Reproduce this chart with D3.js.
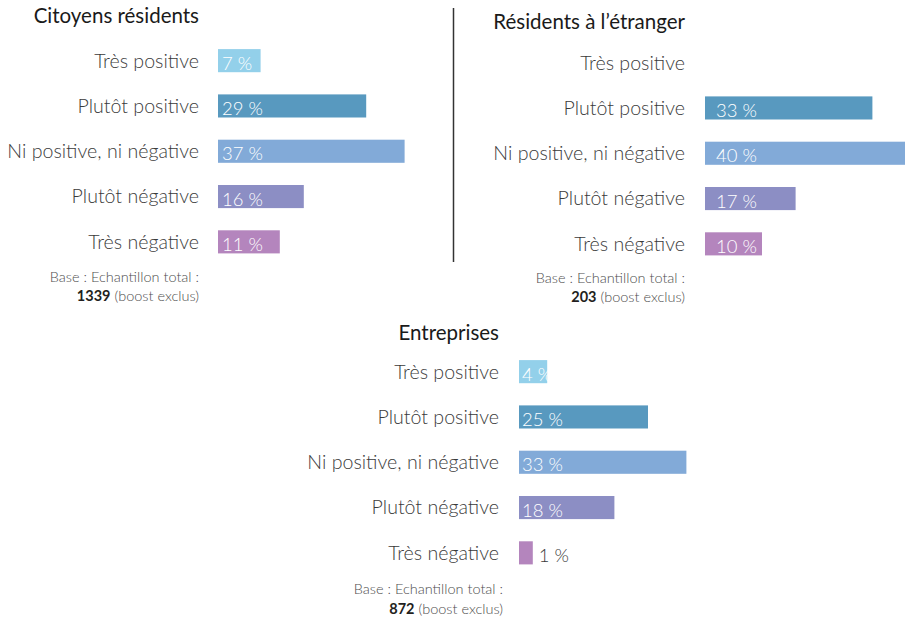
<!DOCTYPE html>
<html>
<head>
<meta charset="utf-8">
<script src="https://cdn.jsdelivr.net/npm/d3@7"></script>
<style>
  body { margin: 0; background: #fff; }
  svg { display: block; }
  text { font-family: Lato, "Open Sans", sans-serif; }
</style>
</head>
<body>
<div id="chart"></div>
<script>
const categories = ["Très positive", "Plutôt positive", "Ni positive, ni négative", "Plutôt négative", "Très négative"]
const citoyensValues = [7, 29, 37, 16, 11]
const etrangerValues = [null, 33, 40, 17, 10]
const entreprisesValues = [4, 25, 33, 18, 1]
const panelTitles = ["Citoyens résidents", "Résidents à l’étranger", "Entreprises"]
const sampleSizes = [1339, 203, 872]

const colors = ["#93d0ea", "#5899bf", "#82aad8", "#8c8ec4", "#b485bd"]

const width = 905
const height = 617

const svg = d3.select('#chart').append('svg').attr('width', width).attr('height', height)

// bars keep a small minimum length, as in the original layout
const xScale = d3.scaleLinear().domain([0, 40]).range([9, 201])

// layout of each panel: label edge, bar start, top of band range, title and base baselines
const panels = [
    { values: citoyensValues, title: panelTitles[0], n: sampleSizes[0], labelX: 199, barX: 218, top: 38, titleY: 23, baseY: 281.5, baseRight: 199, valueDx: 4 },
    { values: etrangerValues, title: panelTitles[1], n: sampleSizes[1], labelX: 685, barX: 705, top: 40, titleY: 29, baseY: 282.5, baseRight: 685, valueDx: 11 },
    { values: entreprisesValues, title: panelTitles[2], n: sampleSizes[2], labelX: 499, barX: 519, top: 349, titleY: 340, baseY: 594, baseRight: 503, valueDx: 3 }
]

const step = 45.3

panels.forEach(function(p) {
    const yScale = d3.scaleBand()
        .domain(categories)
        .range([p.top, p.top + step * categories.length])
        .paddingInner(0.49)
        .paddingOuter(0.245)

    const g = svg.append('g')

    g.append('text')
        .attr('x', p.labelX)
        .attr('y', p.titleY)
        .attr('text-anchor', 'end')
        .attr('font-size', '20.5px')
        .attr('font-weight', 400)
        .attr('fill', '#1a1a1a')
        .text(p.title)

    const rows = categories.map(function(c, i) {
        return { category: c, value: p.values[i], color: colors[i] }
    })

    g.selectAll('.cat').data(rows).enter()
        .append('text')
        .attr('class', 'cat')
        .attr('x', p.labelX)
        .attr('y', function(d) { return yScale(d.category) + yScale.bandwidth() / 2 })
        .attr('dy', '0.35em')
        .attr('text-anchor', 'end')
        .attr('font-size', '19.6px')
        .attr('font-weight', 300)
        .attr('fill', '#3b3b3b')
        .text(function(d) { return d.category })

    const withValue = rows.filter(function(d) { return d.value != null })

    g.selectAll('rect').data(withValue).enter()
        .append('rect')
        .attr('x', p.barX)
        .attr('y', function(d) { return yScale(d.category) })
        .attr('width', function(d) { return xScale(d.value) })
        .attr('height', yScale.bandwidth())
        .attr('fill', function(d) { return d.color })

    g.selectAll('.val').data(withValue).enter()
        .append('text')
        .attr('class', 'val')
        .attr('x', function(d) {
            return d.value < 2 ? p.barX + xScale(d.value) + 6 : p.barX + p.valueDx
        })
        .attr('y', function(d) { return yScale(d.category) + yScale.bandwidth() - 2.5 })
        .attr('font-size', '18.5px')
        .attr('font-weight', 300)
        .attr('fill', function(d) { return d.value < 2 ? '#3b3b3b' : '#ffffff' })
        .text(function(d) { return d.value + ' %' })

    const base = g.append('text')
        .attr('text-anchor', 'end')
        .attr('font-size', '14.5px')
        .attr('font-weight', 300)
        .attr('fill', '#4d4d4d')
    base.append('tspan')
        .attr('x', p.baseRight)
        .attr('y', p.baseY)
        .text('Base : Echantillon total :')
    const line2 = base.append('tspan')
        .attr('x', p.baseRight)
        .attr('y', p.baseY + 19.5)
    line2.append('tspan').attr('font-weight', 700).attr('fill', '#231f20').text(p.n)
    line2.append('tspan').text(' (boost exclus)')
})

// divider between the two top panels
svg.append('line')
    .attr('x1', 453.5).attr('x2', 453.5)
    .attr('y1', 8).attr('y2', 262)
    .attr('stroke', '#333')
    .attr('stroke-width', 1.5)
</script>
</body>
</html>
